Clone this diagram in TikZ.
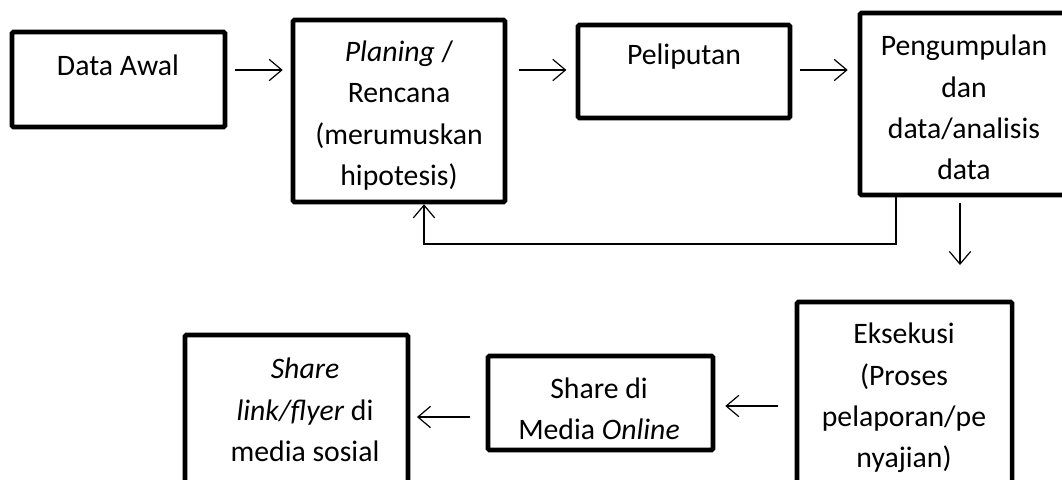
\documentclass[tikz,border=0pt]{standalone}
\usepackage{fontspec}
\setmainfont{Carlito}
\usetikzlibrary{arrows.meta}
\tikzset{
  box/.style={draw=black,line width=3.4pt,rounded corners=1pt,inner sep=0pt},
  txt/.style={font=\fontsize{22.3}{31}\selectfont,align=center,inner sep=0pt},
  arr/.style={-{Straight Barb[length=9.5pt,width=16pt]},line width=0.9pt},
}

\begin{document}
\begin{tikzpicture}[x=0.75pt,y=-0.75pt]
\useasboundingbox (0,0) rectangle (1062,479);
\clip (0,0) rectangle (1062,479);
% ---- top row ----
\node[box,minimum width=213*0.75pt,minimum height=95*0.75pt] (awal) at (118.5,79.5) {};
\node[txt] (awal-t) at (118,65) {Data Awal};
\node[box,minimum width=212*0.75pt,minimum height=182*0.75pt] (plan) at (399,111) {};
\node[txt] (plan-t) at (399,115.5) {\textit{Planing} /\\Rencana\\(merumuskan\\hipotesis)};
\node[box,minimum width=212*0.75pt,minimum height=93*0.75pt] (liput) at (684,71.5) {};
\node[txt] (liput-t) at (684,57) {Peliputan};
\node[box,minimum width=215*0.75pt,minimum height=182*0.75pt] (kumpul) at (967.5,104) {};
\node[txt] (kumpul-t) at (964,107.5) {Pengumpulan\\dan\\data/analisis\\data};
% ---- bottom row ----
\node[box,minimum width=215*0.75pt,minimum height=200*0.75pt] (eksek) at (904.5,402) {};
\node[txt] (eksek-t) at (904,398) {Eksekusi\\(Proses\\pelaporan/pe\\nyajian)};
\node[box,minimum width=225*0.75pt,minimum height=94*0.75pt] (media) at (600.5,403) {};
\node[txt] (media-t) at (599,409) {Share di\\Media \textit{Online}};
\node[box,minimum width=223*0.75pt,minimum height=180*0.75pt] (sebar) at (296.5,425) {};
\node[txt] (sebar-t) at (305,410) {\textit{Share}\\\textit{link/flyer} di\\media sosial};
% ---- connectors ----
\draw[arr,shorten <=6pt,shorten >=6pt] (awal.east |- 0,70) -- (plan.west |- 0,70);
\draw[arr,shorten <=9pt,shorten >=7pt] (plan.east |- 0,70) -- (liput.west |- 0,70);
\draw[arr,shorten <=6pt,shorten >=7.5pt] (liput.east |- 0,70) -- (kumpul.west |- 0,70);
% back to planning
\coordinate (fbR) at (896,244);
\coordinate (fbL) at (424,244);
\draw[arr] (kumpul.south -| fbR) -- (fbR) -- (fbL) -- (plan.south -| fbL);
% down to execution
\coordinate (turun) at (960,265);
\draw[arr,shorten <=4pt] (kumpul.south -| turun) -- (turun);
\draw[arr,shorten <=12.5pt,shorten >=7.5pt] (eksek.west |- 0,406) -- (media.east |- 0,406);
\draw[arr,shorten <=12pt,shorten >=5pt] (media.west |- 0,417) -- (sebar.east |- 0,417);
\end{tikzpicture}
\end{document}
